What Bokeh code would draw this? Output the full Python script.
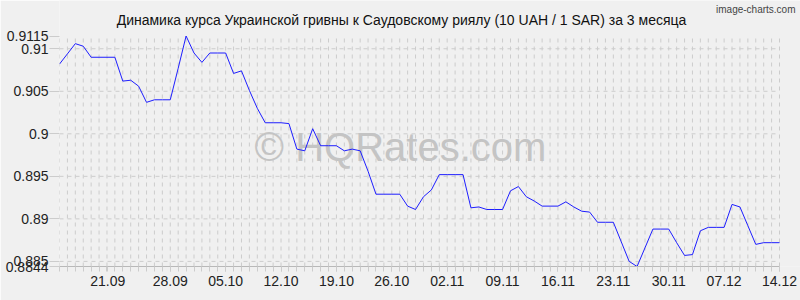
from bokeh.plotting import figure
from bokeh.models import FixedTicker, Label, Range1d
from bokeh.embed import file_html
from bokeh.resources import INLINE

# Daily rate, 14.09 .. 14.12 (index = day number)
values = [
    0.9082, 0.9094, 0.9106, 0.9103, 0.9090, 0.9090, 0.9090, 0.9090, 0.9062, 0.9063,
    0.9056, 0.9037, 0.9040, 0.9040, 0.9040, 0.9077, 0.9115, 0.9095, 0.9084, 0.9095,
    0.9095, 0.9095, 0.9071, 0.9074, 0.9051, 0.9030, 0.9013, 0.9013, 0.9013, 0.9012,
    0.8982, 0.8980, 0.9006, 0.8986, 0.8986, 0.8986, 0.8980, 0.8982, 0.8980, 0.8956,
    0.8929, 0.8929, 0.8929, 0.8929, 0.8915, 0.8911, 0.8926, 0.8934, 0.8952, 0.8952,
    0.8952, 0.8952, 0.8913, 0.8914, 0.8911, 0.8911, 0.8911, 0.8933, 0.8938, 0.8926,
    0.8921, 0.8915, 0.8915, 0.8915, 0.8920, 0.8914, 0.8909, 0.8908, 0.8896, 0.8896,
    0.8896, 0.8873, 0.8850, 0.8844, 0.8866, 0.8888, 0.8888, 0.8888, 0.8872, 0.8857,
    0.8858, 0.8886, 0.8890, 0.8890, 0.8890, 0.8917, 0.8914, 0.8892, 0.8870, 0.8872,
    0.8872, 0.8872,
]
x_index = list(range(len(values)))

x_tick_pos = [6.1, 14, 21, 28, 35, 42, 49, 56, 63, 70, 77, 84, 91]
x_tick_labels = ["21.09", "28.09", "05.10", "12.10", "19.10", "26.10", "02.11",
                 "09.11", "16.11", "23.11", "30.11", "07.12", "14.12"]

y_ticks = [0.8844, 0.885, 0.89, 0.895, 0.9, 0.905, 0.91, 0.9115]
y_tick_labels = ["0.8844", "0.885", "0.89", "0.895", "0.9", "0.905", "0.91", "0.9115"]
y_grid = [0.885, 0.89, 0.895, 0.9, 0.905, 0.91]

title_text = "Динамика курса Украинской гривны к Саудовскому риялу (10 UAH / 1 SAR) за 3 месяца"
watermark_text = "© HQRates.com"
credit_text = "image-charts.com"

BG = "#f0f0f0"
GRID = "#cccccc"
FONT = "Liberation Sans"

# layout (pixels)
W, H = 800, 300
LEFT, BOTTOM = 59, 34          # frame starts here; it extends to the top/right edges
PLOT_W, PLOT_H = 720, 230.5    # size of the data area inside the frame
TOP_PAD, RIGHT_PAD = H - BOTTOM - PLOT_H, W - LEFT - PLOT_W

xmin, xmax = x_index[0], x_index[-1]
ymin, ymax = min(y_ticks), max(y_ticks)
x_end = xmax + RIGHT_PAD * (xmax - xmin) / PLOT_W
y_end = ymax + TOP_PAD * (ymax - ymin) / PLOT_H

p = figure(width=W, height=H, output_backend="svg", toolbar_location=None,
           x_range=Range1d(xmin, x_end), y_range=Range1d(ymin, y_end),
           min_border_left=LEFT, min_border_right=0, min_border_top=0, min_border_bottom=BOTTOM,
           background_fill_color=BG, border_fill_color=BG, outline_line_color=None)

# grids drawn only over the data area
p.xgrid.visible = False
p.ygrid.visible = False
p.segment(x0=x_index, y0=[ymin] * len(x_index), x1=x_index, y1=[ymax] * len(x_index),
          line_color=GRID, line_width=1, line_dash="4 4", level="underlay")
p.segment(x0=[xmin] * len(y_grid), y0=y_grid, x1=[xmax] * len(y_grid), y1=y_grid,
          line_color=GRID, line_width=1, line_dash="4 4", level="underlay")

# x axis
xa = p.xaxis[0]
xa.bounds = (xmin, xmax)
xa.ticker = FixedTicker(ticks=x_tick_pos, minor_ticks=x_index)
xa.major_label_overrides = dict(zip(x_tick_pos, x_tick_labels))
xa.axis_line_color = "#b8b8b8"
xa.major_tick_line_color = GRID
xa.minor_tick_line_color = GRID
xa.major_tick_in = 0
xa.major_tick_out = 5
xa.minor_tick_in = 0
xa.minor_tick_out = 5
xa.major_label_standoff = 4
xa.major_label_text_font = FONT
xa.major_label_text_font_size = "14px"
xa.major_label_text_color = "#222222"

# y axis
ya = p.yaxis[0]
ya.bounds = (ymin, ymax)
ya.ticker = FixedTicker(ticks=y_ticks)
ya.major_label_overrides = dict(zip(y_ticks, y_tick_labels))
ya.axis_line_color = None
ya.major_tick_line_color = GRID
ya.major_tick_in = 0
ya.major_tick_out = 10
ya.minor_tick_line_color = None
ya.major_label_standoff = 1
ya.major_label_text_font = FONT
ya.major_label_text_font_size = "14px"
ya.major_label_text_color = "#222222"

wm = Label(x=400 - LEFT, y=H - BOTTOM - 146, x_units="screen", y_units="screen",
           text=watermark_text, text_font=FONT, text_font_size="40px", text_color="#c4c4c4",
           text_align="center", text_baseline="middle", level="underlay")
p.add_layout(wm)

p.line(x_index, values, line_color="#1e1eff", line_width=1)

title = Label(x=401 - LEFT, y=H - BOTTOM - 19.5, x_units="screen", y_units="screen",
              text=title_text, text_font=FONT, text_font_size="14px", text_color="#111111",
              text_align="center", text_baseline="middle")
p.add_layout(title)

credit = Label(x=795 - LEFT, y=H - BOTTOM - 9, x_units="screen", y_units="screen",
               text=credit_text, text_font=FONT, text_font_size="10px", text_color="#444444",
               text_align="right", text_baseline="middle")
p.add_layout(credit)

open("out.html", "w").write(file_html(p, INLINE))
